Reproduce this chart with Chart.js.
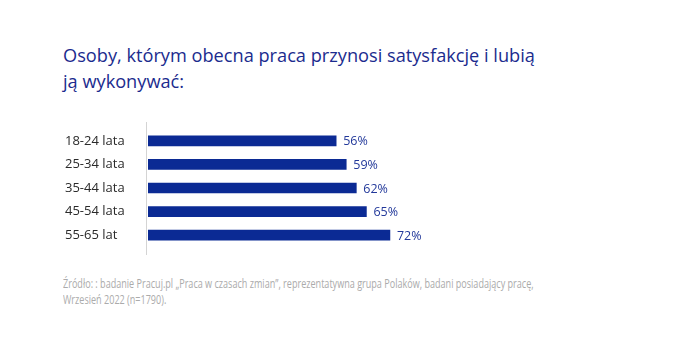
<!DOCTYPE html>
<html lang="pl">
<head>
<meta charset="utf-8">
<script src="https://cdn.jsdelivr.net/npm/chart.js@4"></script>
<style>
  html, body { margin: 0; padding: 0; background: #fff; }
  #wrap { position: relative; width: 700px; height: 348px; overflow: hidden; font-family: "Open Sans", sans-serif; }
  #tytul { position: absolute; left: 63px; top: 42px; font-size: 18.2px; line-height: 26px; color: #1b2b8e; white-space: nowrap; }
  #wykres { position: absolute; left: 0; top: 115px; width: 700px; height: 145px; }
  #zrodlo { position: absolute; left: 63px; top: 276px; font-size: 12.5px; line-height: 16px; color: #ababab;
            white-space: nowrap; transform: scaleX(0.725); transform-origin: left top; }
</style>
</head>
<body>
<div id="wrap">
  <div id="tytul">Osoby, którym obecna praca przynosi satysfakcję i lubią<br>ją wykonywać:</div>
  <div id="wykres"><canvas id="satysfakcjaChart"></canvas></div>
  <div id="zrodlo">Źródło: : badanie Pracuj.pl „Praca w czasach zmian”, reprezentatywna grupa Polaków, badani posiadający pracę,<br>Wrzesień 2022 (n=1790).</div>
</div>
<script>
// Grupy wiekowe i odsetek zadowolonych z pracy
const grupyWiekowe = ['18-24 lata', '25-34 lata', '35-44 lata', '45-54 lata', '55-65 lat'];
const procenty = [56, 59, 62, 65, 72];

const kolorSlupka = '#0b2a94';
const kolorEtykiety = '#22389a';

// Pionowa linia osi, trochę dłuższa niż obszar kategorii
const liniaOsi = {
    id: 'liniaOsi',
    beforeDatasetsDraw(chart) {
        const { ctx, chartArea } = chart;
        ctx.save();
        ctx.strokeStyle = '#d4d4d4';
        ctx.lineWidth = 1;
        ctx.beginPath();
        ctx.moveTo(chartArea.left - 1.5, chartArea.top - 7);
        ctx.lineTo(chartArea.left - 1.5, chartArea.bottom + 8);
        ctx.stroke();
        ctx.restore();
    }
};

// Wartości procentowe na końcu słupków
const etykietyWartosci = {
    id: 'etykietyWartosci',
    afterDatasetsDraw(chart) {
        const { ctx } = chart;
        const meta = chart.getDatasetMeta(0);
        ctx.save();
        ctx.font = '12.5px "Open Sans", sans-serif';
        ctx.fillStyle = kolorEtykiety;
        ctx.textAlign = 'left';
        ctx.textBaseline = 'middle';
        meta.data.forEach((bar, i) => {
            ctx.fillText(procenty[i] + '%', bar.x + 7, bar.y + 1);
        });
        ctx.restore();
    }
};

const canvasElement = document.getElementById('satysfakcjaChart');
canvasElement.chart = new Chart(canvasElement.getContext('2d'), {
    type: 'bar',
    data: {
        labels: grupyWiekowe,
        datasets: [{
            data: procenty,
            backgroundColor: kolorSlupka,
            barThickness: 10
        }]
    },
    options: {
        indexAxis: 'y',
        responsive: true,
        maintainAspectRatio: false,
        animation: false,
        layout: { padding: { left: 65, right: 216, top: 14, bottom: 13 } },
        plugins: {
            legend: { display: false },
            tooltip: { enabled: false }
        },
        scales: {
            x: { display: false, min: 0, max: 100 },
            y: {
                grid: { display: false },
                border: { display: false },
                afterFit(scale) { scale.width = 83; },
                ticks: {
                    crossAlign: 'far',
                    color: '#2a2a2a',
                    font: { family: '"Open Sans", sans-serif', size: 13 }
                }
            }
        }
    },
    plugins: [liniaOsi, etykietyWartosci]
});
</script>
</body>
</html>
